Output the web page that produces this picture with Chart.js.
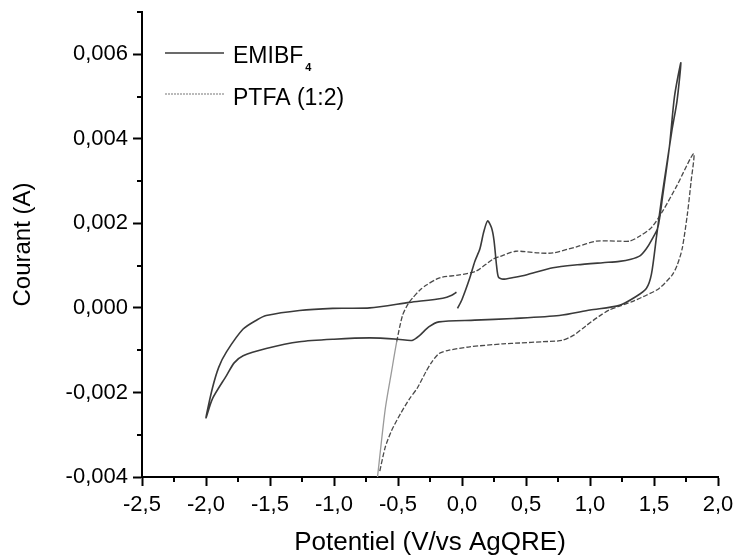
<!DOCTYPE html>
<html>
<head>
<meta charset="utf-8">
<script src="https://cdn.jsdelivr.net/npm/chart.js@4.4.0/dist/chart.umd.min.js"></script>
<style>
  html, body { margin: 0; padding: 0; background: #fff; }
  #wrap { width: 735px; height: 556px; }
</style>
</head>
<body>
<div id="wrap"><canvas id="cv" width="735" height="556"></canvas></div>
<script>
// Cyclic voltammograms, potential in V vs AgQRE, current in A
const emibf4V = [
  -0.035, 0.0, 0.06, 0.10, 0.14, 0.17, 0.20, 0.23, 0.25, 0.27, 0.285, 0.32, 0.40, 0.50, 0.71, 0.90, 1.10, 1.23, 1.32, 1.39, 1.44, 1.48, 1.53, 1.57, 1.62, 1.66, 1.71,
  1.68, 1.64, 1.60, 1.56, 1.52, 1.48, 1.44, 1.36, 1.23, 1.00, 0.76, 0.40, 0.10, -0.18, -0.26, -0.33, -0.39, -0.50, -0.72, -1.00, -1.27, -1.53, -1.71, -1.78, -1.84, -1.95, -2.00,
  -1.95, -1.90, -1.84, -1.71, -1.60, -1.53, -1.27, -1.01, -0.72, -0.41, -0.15, -0.08, -0.043
];
const emibf4I = [
  -0.00001, 0.0002, 0.0007, 0.0011, 0.0014, 0.0018, 0.00206, 0.0019, 0.0016, 0.0010, 0.00073, 0.00068, 0.00072, 0.00078, 0.00095, 0.00102, 0.00107, 0.0011, 0.00115, 0.00123, 0.0014, 0.0016, 0.0019, 0.0027, 0.0038, 0.0050, 0.0058,
  0.0049, 0.0042, 0.0034, 0.0026, 0.0017, 0.0008, 0.00046, 0.00027, 0.00006, -0.00005, -0.00018, -0.00025, -0.00029, -0.00033, -0.00045, -0.00065, -0.00077, -0.00074, -0.00071, -0.00074, -0.0008, -0.00096, -0.00113, -0.0013, -0.0016, -0.00215, -0.0026,
  -0.0019, -0.0014, -0.00104, -0.0005, -0.00028, -0.00018, -0.00006, -0.00001, 0.0, 0.00013, 0.00023, 0.0003, 0.00037
];

const ptfaV = [
  -0.66, -0.60, -0.55, -0.51, -0.465, -0.42, -0.387, -0.33, -0.278, -0.20, -0.153, -0.02, 0.11, 0.24, 0.30, 0.42, 0.60, 0.71, 0.90, 1.05, 1.23, 1.31, 1.39, 1.48, 1.57, 1.68, 1.81,
  1.79, 1.76, 1.72, 1.68, 1.64, 1.54, 1.44, 1.33, 1.23, 1.15, 1.07, 0.97, 0.87, 0.78, 0.63, 0.45, 0.32, 0.06, -0.10, -0.18, -0.24, -0.28, -0.35, -0.41, -0.48, -0.55, -0.60, -0.645
];
const ptfaI = [
  -0.0040, -0.0024, -0.0015, -0.0008, -0.00018, 0.0001, 0.00023, 0.00042, 0.00054, 0.00068, 0.00073, 0.00078, 0.00087, 0.00115, 0.00122, 0.00134, 0.0013, 0.0013, 0.00145, 0.00158, 0.00158, 0.00158, 0.0017, 0.0019, 0.0023, 0.0029, 0.00365,
  0.0030, 0.0022, 0.0014, 0.0010, 0.00077, 0.00046, 0.0003, 0.00015, 0.00004, -0.00005, -0.0002, -0.00042, -0.00065, -0.00077, -0.0008, -0.00083, -0.00085, -0.00092, -0.0010, -0.00108, -0.0013, -0.0015, -0.0019, -0.00215, -0.0025, -0.0029, -0.0033, -0.0039
];

const seriesNames = ['EMIBF', 'PTFA (1:2)'];
const xTicks = [-2.5, -2.0, -1.5, -1.0, -0.5, 0.0, 0.5, 1.0, 1.5, 2.0];
const yTicks = [-0.004, -0.002, 0.0, 0.002, 0.004, 0.006];
const xMinor = [-2.25, -1.75, -1.25, -0.75, -0.25, 0.25, 0.75, 1.25, 1.75];
const yMinor = [-0.003, -0.001, 0.001, 0.003, 0.005, 0.007];

const FONT = "'Liberation Sans', Arial, sans-serif";

function pairs(xs, ys) {
  return xs.map((v, i) => ({ x: v, y: ys[i] }));
}

// short unlabelled ticks between the major ones
const minorTicks = {
  id: 'minorTicks',
  afterDraw(chart) {
    const ctx = chart.ctx;
    const xs = chart.scales.x, ys = chart.scales.y;
    const area = chart.chartArea;
    ctx.save();
    ctx.strokeStyle = '#000';
    ctx.lineWidth = 2;
    ctx.beginPath();
    xMinor.forEach(v => {
      const px = Math.round(xs.getPixelForValue(v));
      ctx.moveTo(px, area.bottom);
      ctx.lineTo(px, area.bottom + 5);
    });
    yMinor.forEach(v => {
      const py = Math.round(ys.getPixelForValue(v));
      ctx.moveTo(area.left, py);
      ctx.lineTo(area.left - 5, py);
    });
    ctx.stroke();
    ctx.restore();
  }
};

// legend in the top-left corner of the plot, with a subscript on the first name
const cornerLegend = {
  id: 'cornerLegend',
  afterDatasetsDraw(chart) {
    const ctx = chart.ctx;
    const area = chart.chartArea;
    const x0 = area.left + 23, x1 = area.left + 82, tx = area.left + 91;
    const rows = [
      { lineY: 53, base: 63, color: '#3a3a3a', width: 1.3, dash: [] },
      { lineY: 94, base: 105, color: '#777', width: 1.2, dash: [2, 1] }
    ];
    ctx.save();
    rows.forEach((r, i) => {
      ctx.strokeStyle = r.color;
      ctx.lineWidth = r.width;
      ctx.setLineDash(r.dash);
      ctx.beginPath();
      ctx.moveTo(x0, r.lineY);
      ctx.lineTo(x1, r.lineY);
      ctx.stroke();
      ctx.setLineDash([]);
      ctx.fillStyle = '#000';
      ctx.font = '23px ' + FONT;
      ctx.textBaseline = 'alphabetic';
      ctx.textAlign = 'left';
      ctx.fillText(seriesNames[i], tx, r.base);
      if (i === 0) {
        const w = ctx.measureText(seriesNames[i]).width;
        ctx.font = 'bold 11px ' + FONT;
        ctx.fillText('4', tx + w + 2, r.base + 8);
      }
    });
    ctx.restore();
  }
};

new Chart(document.getElementById('cv'), {
  type: 'scatter',
  data: {
    datasets: [
      {
        label: 'EMIBF4',
        data: pairs(emibf4V, emibf4I),
        showLine: true,
        borderColor: '#3a3a3a',
        borderWidth: 1.6,
        pointRadius: 0,
        tension: 0.25
      },
      {
        label: 'PTFA (1:2)',
        data: pairs(ptfaV, ptfaI),
        showLine: true,
        borderColor: '#4a4a4a',
        borderWidth: 1.3,
        borderDash: [5, 2],
        pointRadius: 0,
        tension: 0.25,
        segment: {
          // the first stretch from the lower turning point is traced fainter
          borderDash: c => c.p0DataIndex < 3 ? [] : undefined,
          borderColor: c => c.p0DataIndex < 3 ? '#9a9a9a' : undefined
        }
      }
    ]
  },
  options: {
    responsive: false,
    animation: false,
    devicePixelRatio: 1,
    layout: { padding: { top: 12, right: 17, left: 0, bottom: 0 } },
    plugins: {
      legend: { display: false },
      tooltip: { enabled: false }
    },
    scales: {
      x: {
        type: 'linear',
        min: -2.5,
        max: 2.0,
        border: { display: true, color: '#000', width: 2 },
        grid: { drawOnChartArea: false, drawTicks: true, tickLength: 9, tickColor: '#000', tickWidth: 2 },
        afterBuildTicks: s => { s.ticks = xTicks.map(v => ({ value: v })); },
        afterFit: s => { s.height = 79; s.paddingLeft = 0; s.paddingRight = 0; },
        ticks: {
          color: '#000',
          padding: 6,
          maxRotation: 0,
          font: { family: FONT, size: 22 },
          callback: v => v.toFixed(1).replace('.', ',')
        },
        title: {
          display: true,
          text: 'Potentiel (V/vs AgQRE)',
          color: '#000',
          font: { family: FONT, size: 26, lineHeight: 1 },
          padding: { top: 0, bottom: 0 }
        }
      },
      y: {
        type: 'linear',
        min: -0.004,
        max: 0.007,
        border: { display: true, color: '#000', width: 2 },
        grid: { drawOnChartArea: false, drawTicks: true, tickLength: 9, tickColor: '#000', tickWidth: 2 },
        afterBuildTicks: s => { s.ticks = yTicks.map(v => ({ value: v })); },
        afterFit: s => { s.width = 142; s.paddingTop = 0; s.paddingBottom = 0; },
        ticks: {
          color: '#000',
          padding: 5,
          font: { family: FONT, size: 22 },
          callback: v => v.toFixed(3).replace('.', ',')
        },
        title: {
          display: true,
          text: 'Courant (A)',
          color: '#000',
          font: { family: FONT, size: 24, lineHeight: 1.2 },
          padding: { top: 9, bottom: 0 }
        }
      }
    }
  },
  plugins: [minorTicks, cornerLegend]
});
</script>
</body>
</html>
